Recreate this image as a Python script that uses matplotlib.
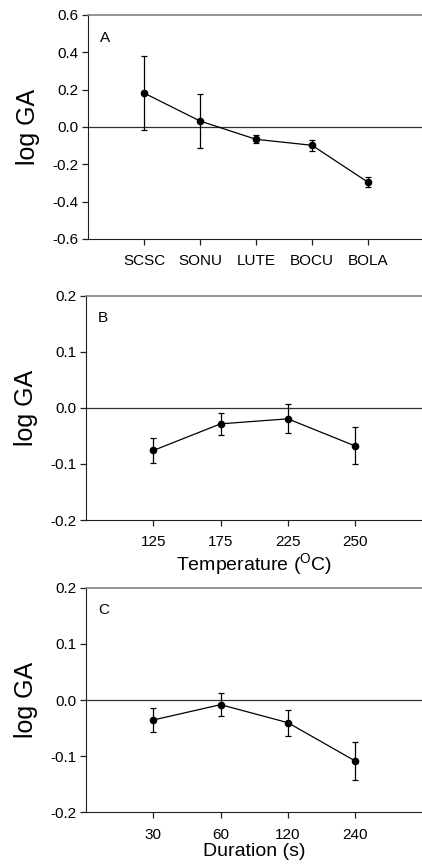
import numpy as np
import matplotlib
matplotlib.use("Agg")
import matplotlib.pyplot as plt

plt.rcParams["font.family"] = ["Liberation Sans", "DejaVu Sans"]
plt.rcParams["mathtext.default"] = "regular"

# panel A: species
species = ["SCSC", "SONU", "LUTE", "BOCU", "BOLA"]
species_mean = [0.182, 0.032, -0.066, -0.098, -0.296]
species_err = [0.197, 0.147, 0.021, 0.029, 0.028]

# panel B: temperature
temps = ["125", "175", "225", "250"]
temp_mean = [-0.076, -0.0285, -0.0196, -0.068]
temp_err = [0.023, 0.020, 0.026, 0.033]

# panel C: duration
durations = ["30", "60", "120", "240"]
dur_mean = [-0.0356, -0.0083, -0.0404, -0.1086]
dur_err = [0.022, 0.021, 0.023, 0.034]

fig = plt.figure(figsize=(4.22, 8.67), dpi=100)
fig.patch.set_facecolor("white")

W, H = 422.0, 867.0


def make_axes(left, top, bottom, right):
    return fig.add_axes([left / W, 1 - bottom / H, (right - left) / W, (bottom - top) / H])


def draw_panel(ax, labels, mean, err, ylim, yticks, letter, xlabel=None):
    x = np.arange(1, len(labels) + 1)
    ax.axhline(0, color="#303030", lw=0.9, zorder=1)
    ax.errorbar(x, mean, yerr=err, fmt="o-", color="black", ms=4.5, lw=0.9,
                elinewidth=0.9, capsize=2.5, capthick=0.9, zorder=3)
    ax.set_xlim(0, len(labels) + 1)
    ax.set_ylim(*ylim)
    ax.set_xticks(x)
    ax.set_xticklabels(labels, fontsize=11)
    ax.set_yticks(yticks)
    ax.set_yticklabels(["%.1f" % t for t in yticks], fontsize=11)
    ax.tick_params(axis="both", direction="out", length=4, width=0.9, color="#202020", pad=3)
    ax.tick_params(axis="x", pad=7)
    ax.spines["top"].set_color("#808080")
    ax.spines["top"].set_linewidth(1.2)
    ax.spines["left"].set_color("#202020")
    ax.spines["bottom"].set_color("#202020")
    ax.spines["right"].set_visible(False)
    ax.set_ylabel("log GA", fontsize=18, labelpad=9)
    ax.text(0.035, 0.93, letter, transform=ax.transAxes, fontsize=11, va="top", ha="left")
    if xlabel:
        ax.set_xlabel(xlabel, fontsize=14, labelpad=1)


ax1 = make_axes(88, 15, 239, 424)
draw_panel(ax1, species, species_mean, species_err, (-0.6, 0.6),
           [-0.6, -0.4, -0.2, 0.0, 0.2, 0.4, 0.6], "A")

ax2 = make_axes(86, 295.7, 520, 422.5)
draw_panel(ax2, temps, temp_mean, temp_err, (-0.2, 0.2),
           [-0.2, -0.1, 0.0, 0.1, 0.2], "B", r"Temperature ($^{O}$C)")

ax3 = make_axes(86, 587.7, 812.3, 422.5)
draw_panel(ax3, durations, dur_mean, dur_err, (-0.2, 0.2),
           [-0.2, -0.1, 0.0, 0.1, 0.2], "C", "Duration (s)")

fig.savefig("out.png", dpi=100)
